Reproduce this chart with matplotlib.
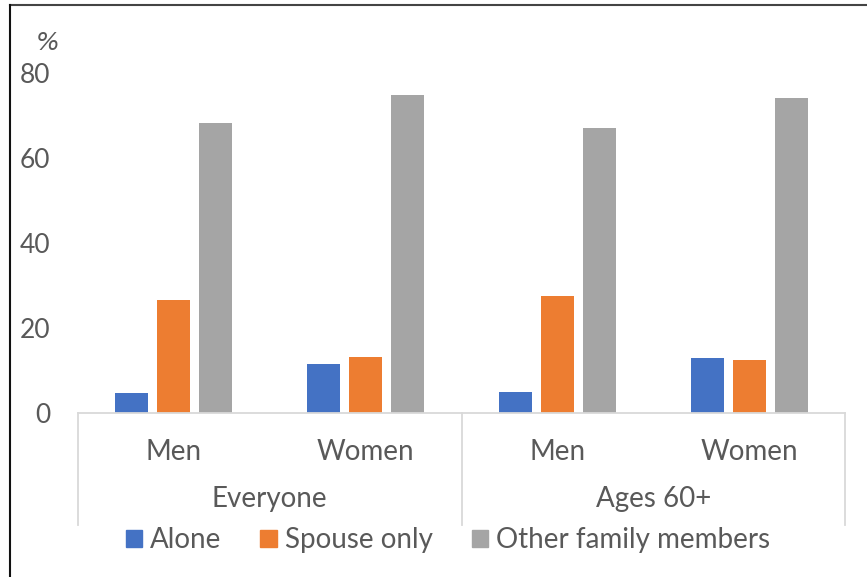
import matplotlib.pyplot as plt
from matplotlib.lines import Line2D
from matplotlib.patches import Patch
import numpy as np

# Living arrangements, share of people (%)
groups = ["Everyone", "Ages 60+"]
sexes = ["Men", "Women", "Men", "Women"]
series = ["Alone", "Spouse only", "Other family members"]
alone = [4.6, 11.5, 5.0, 12.9]
spouse_only = [26.7, 13.2, 27.5, 12.5]
other_family = [68.2, 74.8, 67.0, 74.1]
colors = ["#4472C4", "#ED7D31", "#A5A5A5"]

text_color = "#595959"
axis_color = "#D9D9D9"
plt.rcParams['font.family'] = ['Lato', 'DejaVu Sans']

W, H = 867, 577
fig = plt.figure(figsize=(W / 100, H / 100), dpi=100)

# axes box in pixels: x 78..845, zero line at y=413, 80 at y=73
left, right, zero_y, top_y = 78, 845, 413, 73
ax = fig.add_axes([left / W, 1 - zero_y / H, (right - left) / W, (zero_y - top_y) / H])

x = np.arange(len(sexes))
width = 0.172
offset = 0.219
for i, (vals, name) in enumerate(zip([alone, spouse_only, other_family], series)):
    ax.bar(x + (i - 1) * offset, vals, width, color=colors[i], label=name, zorder=2)

ax.set_xlim(-0.5, len(sexes) - 0.5)
ax.set_ylim(0, 80)
ax.set_yticks([0, 20, 40, 60, 80])
ax.tick_params(axis='y', length=0, pad=20, labelsize=19, labelcolor=text_color)
ax.set_xticks([])
for s in ["top", "right", "left"]:
    ax.spines[s].set_visible(False)
ax.spines["bottom"].set_color(axis_color)
ax.spines["bottom"].set_linewidth(1.3)

# multi-level category axis
trans = ax.get_xaxis_transform()
axis_h = zero_y - top_y
def ax_y(py):
    return -(py - zero_y) / axis_h

for xs in [-0.5, 1.5, 3.5]:
    ax.plot([xs, xs], [0, ax_y(525)], color=axis_color, lw=1.3,
            transform=trans, clip_on=False)
for xi, s in zip(x, sexes):
    ax.text(xi, ax_y(452), s, transform=trans, ha='center', va='center',
            fontsize=20, color=text_color)
for gi, g in enumerate(groups):
    ax.text(gi * 2 + 0.5, ax_y(499), g, transform=trans, ha='center', va='center',
            fontsize=20, color=text_color)

ax.text(48 / W, 1 - 43 / H, "%", transform=fig.transFigure, ha='center', va='center',
        fontsize=18, style='italic', family='DejaVu Sans', color=text_color)

handles = [Patch(color=c) for c in colors]
fig.legend(handles, series, loc='center', bbox_to_anchor=(448 / W, 1 - 540 / H),
           ncol=3, frameon=False, fontsize=20, labelcolor=text_color,
           handlelength=0.58, handleheight=0.58, handletextpad=0.3, columnspacing=1.4,
           borderpad=0, borderaxespad=0)

# outer frame edges
fig.add_artist(Line2D([10 / W, 866 / W], [1 - 5 / H, 1 - 5 / H], color="#444444", lw=1.5,
                      transform=fig.transFigure))
fig.add_artist(Line2D([10 / W, 10 / W], [1 - 5 / H, 0], color="#111111", lw=1.5,
                      transform=fig.transFigure))

fig.savefig("out.png", dpi=100)
